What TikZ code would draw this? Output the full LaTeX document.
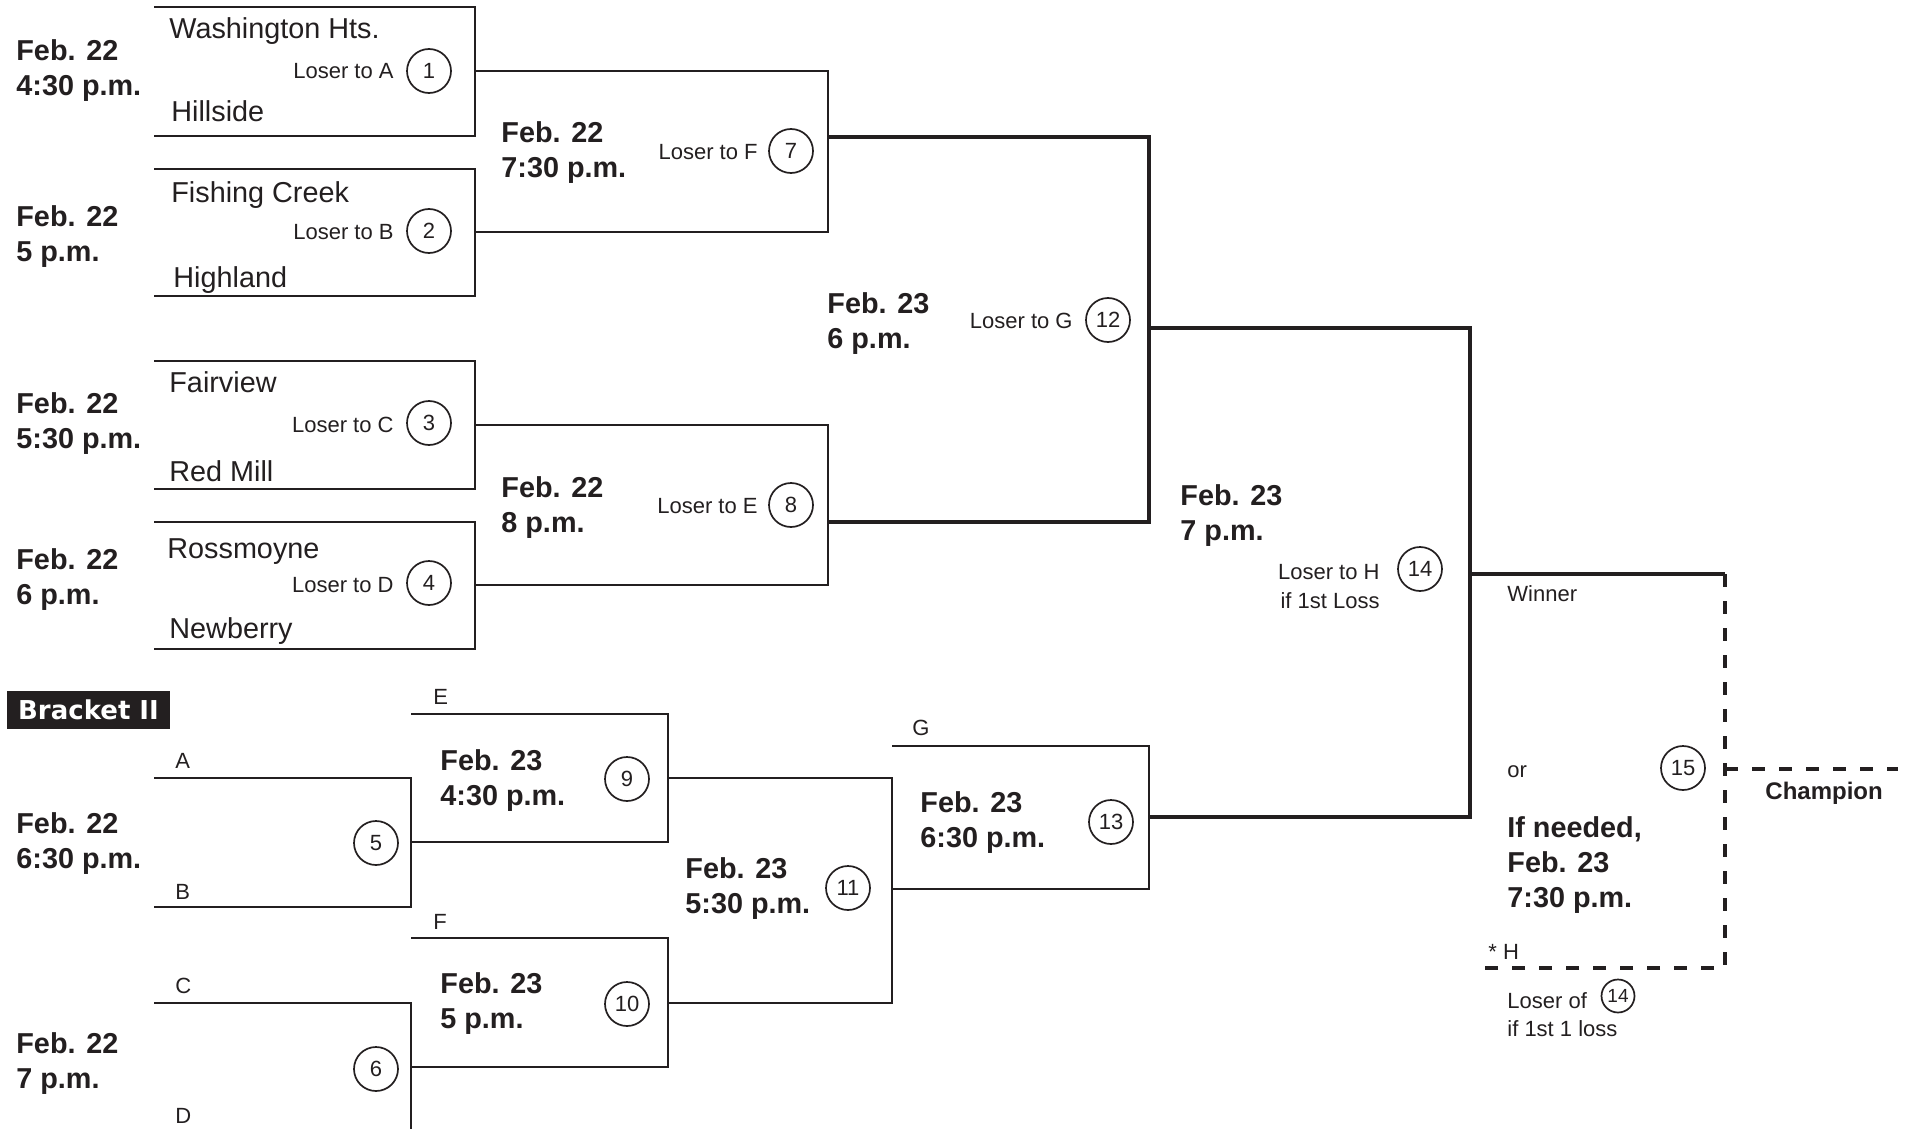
\documentclass[tikz,border=0pt]{standalone}
\usepackage{fontspec}
\setmainfont{Liberation Sans}
\newfontfamily\brfont{DejaVu Sans}
\usepackage{xcolor}
\definecolor{ink}{HTML}{231F20}

\tikzset{
    ln/.style={draw=ink, line width=1pt, line join=miter},
    thk/.style={draw=ink, line width=2pt, line join=miter},
    dsh/.style={draw=ink, line width=1.7pt, dash pattern=on 6.5pt off 7pt},
    num/.style={draw=ink, circle, line width=0.85pt, minimum size=22pt, inner sep=0pt, text=ink, font=\fontsize{11}{13}\selectfont},
    snum/.style={num, minimum size=16.5pt, font=\fontsize{9.5}{11}\selectfont},
    team/.style={anchor=base west, inner sep=0pt, text=ink, font=\fontsize{14.4}{17}\selectfont},
    lbl/.style={anchor=base west, inner sep=0pt, text=ink, font=\fontsize{11}{14}\selectfont, align=left},
    loser/.style={anchor=base east, inner sep=0pt, text=ink, font=\fontsize{11}{14.5}\selectfont, align=right},
    date/.style={anchor=base west, inner sep=0pt, text=ink, align=left, font=\bfseries\fontsize{14.4}{17.5}\selectfont},
}

\begin{document}
\begin{tikzpicture}[x=0.5pt, y=-0.5pt]
    \useasboundingbox (0,0) rectangle (1911,1129);

    \coordinate (t1) at (154,7);    \coordinate (b1) at (154,136);  \coordinate (o1) at (475,71);
    \coordinate (t2) at (154,169);  \coordinate (b2) at (154,296);  \coordinate (o2) at (475,232);
    \coordinate (t3) at (154,361);  \coordinate (b3) at (154,489);  \coordinate (o3) at (475,425);
    \coordinate (t4) at (154,522);  \coordinate (b4) at (154,649);  \coordinate (o4) at (475,585);
    \coordinate (o7) at (828,137);
    \coordinate (o8) at (828,522);
    \coordinate (o12) at (1149,328);
    \coordinate (o14) at (1470,574);
    \coordinate (tA) at (154,778);  \coordinate (bB) at (154,907);  \coordinate (o5) at (411,842);
    \coordinate (tC) at (154,1003); \coordinate (bD) at (154,1132); \coordinate (o6) at (411,1067);
    \coordinate (tE) at (411,714);  \coordinate (o9) at (668,778);
    \coordinate (tF) at (411,938);  \coordinate (o10) at (668,1003);
    \coordinate (o11) at (892,889);
    \coordinate (tG) at (892,746);  \coordinate (o13) at (1149,817);
    \coordinate (win) at (1725,574);
    \coordinate (hend) at (1473,968);
    \coordinate (o15) at (1725,769);
    \coordinate (champ) at (1898,769);

    \draw[ln] (t1) -| (o1) |- (b1);
    \draw[ln] (t2) -| (o2) |- (b2);
    \draw[ln] (t3) -| (o3) |- (b3);
    \draw[ln] (t4) -| (o4) |- (b4);
    \draw[ln] (o1) -| (o7) |- (o2);
    \draw[ln] (o3) -| (o8) |- (o4);
    \draw[thk] (o7) -| (o12) |- (o8);
    \draw[ln] (tA) -| (o5) |- (bB);
    \draw[ln] (tC) -| (o6) |- (bD);
    \draw[ln] (tE) -| (o9) |- (o5);
    \draw[ln] (tF) -| (o10) |- (o6);
    \draw[ln] (o9) -| (o11) |- (o10);
    \draw[ln] (tG) -| (o13) |- (o11);
    \draw[thk] (o12) -| (o14) |- (o13);
    \draw[thk] (o14) -- (win);
    \draw[dsh] (win) |- (hend);
    \draw[dsh] (o15) -- (champ);

    \node[num] (1) at (429,71) {1};
    \node[num] (2) at (429,231) {2};
    \node[num] (3) at (429,423) {3};
    \node[num] (4) at (429,583) {4};
    \node[num] (5) at (376,843) {5};
    \node[num] (6) at (376,1069) {6};
    \node[num] (7) at (791,151) {7};
    \node[num] (8) at (791,505) {8};
    \node[num] (9) at (627,779) {9};
    \node[num] (10) at (627,1004) {10};
    \node[num] (11) at (848,888) {11};
    \node[num] (12) at (1108,320) {12};
    \node[num] (13) at (1111,822) {13};
    \node[num] (14) at (1420,569) {14};
    \node[num] (15) at (1683,768) {15};
    \node[snum] (s14) at (1618,996) {14};

    \node[team] (wh) at (169,39) {Washington Hts.};
    \node[team] (hi) at (171,122) {Hillside};
    \node[team] (fc) at (171,202) {Fishing Creek};
    \node[team] (hl) at (173,287) {Highland};
    \node[team] (fv) at (169,392) {Fairview};
    \node[team] (rm) at (169,481) {Red Mill};
    \node[team] (rs) at (167,558) {Rossmoyne};
    \node[team] (nb) at (169,638) {Newberry};

    \node[loser] (la) at (394,79) {Loser to A};
    \node[loser] (lb) at (394,239) {Loser to B};
    \node[loser] (lc) at (394,432) {Loser to C};
    \node[loser] (ld) at (394,592) {Loser to D};
    \node[loser] (lf) at (758,160) {Loser to F};
    \node[loser] (le) at (758,513) {Loser to E};
    \node[loser] (lg) at (1073,328) {Loser to G};
    \node[loser] (lh) at (1380,608) {Loser to H\\if 1st Loss};

    \node[date] (d1) at (16,96) {Feb. 22\\4:30 p.m.};
    \node[date] (d2) at (16,261) {Feb. 22\\5 p.m.};
    \node[date] (d3) at (16,448) {Feb. 22\\5:30 p.m.};
    \node[date] (d4) at (16,604) {Feb. 22\\6 p.m.};
    \node[date] (d5) at (16,868) {Feb. 22\\6:30 p.m.};
    \node[date] (d6) at (16,1088) {Feb. 22\\7 p.m.};
    \node[date] (d7) at (501,177) {Feb. 22\\7:30 p.m.};
    \node[date] (d8) at (501,532) {Feb. 22\\8 p.m.};
    \node[date] (d9) at (440,805) {Feb. 23\\4:30 p.m.};
    \node[date] (d10) at (440,1028) {Feb. 23\\5 p.m.};
    \node[date] (d11) at (685,913) {Feb. 23\\5:30 p.m.};
    \node[date] (d12) at (827,348) {Feb. 23\\6 p.m.};
    \node[date] (d13) at (920,847) {Feb. 23\\6:30 p.m.};
    \node[date] (d14) at (1180,540) {Feb. 23\\7 p.m.};
    \node[date] (d15) at (1507,907) {If needed,\\Feb. 23\\7:30 p.m.};

    \node[lbl] (a) at (175,768) {A};
    \node[lbl] (b) at (175,899) {B};
    \node[lbl] (c) at (175,993) {C};
    \node[lbl] (d) at (175,1123) {D};
    \node[lbl] (e) at (433,704) {E};
    \node[lbl] (f) at (433,929) {F};
    \node[lbl] (g) at (912,735) {G};
    \node[lbl] (wn) at (1507,601) {Winner};
    \node[lbl] (or) at (1507,777) {or};
    \node[lbl] (h) at (1488,959) {* H};
    \node[lbl] (lo) at (1507,1036) {Loser of\\if 1st 1 loss};
    \node[date, font=\bfseries\fontsize{12}{14}\selectfont] (ch) at (1765,799) {Champion};

    \node[fill=ink, text=white, inner sep=0pt, minimum width=81.5pt, minimum height=19pt,
        font=\brfont\bfseries\fontsize{13}{15}\selectfont] (br) at (88.5,710) {Bracket II};
\end{tikzpicture}
\end{document}
